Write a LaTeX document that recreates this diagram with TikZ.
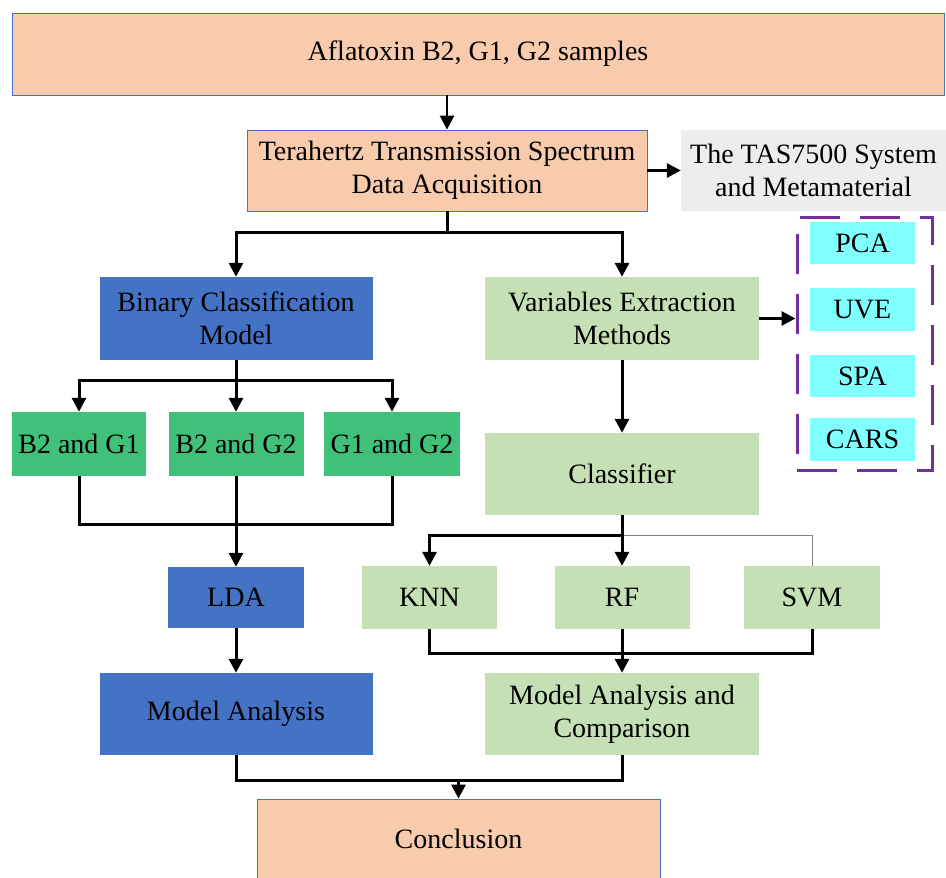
\documentclass[tikz,border=0pt]{standalone}
\usepackage{fontspec}
\setmainfont{Liberation Serif}
\usetikzlibrary{arrows.meta}

\definecolor{peach}{HTML}{F8CBAD}
\definecolor{edgeblue}{HTML}{4472C4}
\definecolor{lightgreen}{HTML}{C5E0B4}
\definecolor{midgreen}{HTML}{41C07A}
\definecolor{lightgray}{HTML}{EDEDED}
\definecolor{aqua}{HTML}{80FFFF}
\definecolor{grpviolet}{HTML}{7030A0}

\begin{document}
\begin{tikzpicture}[x=1pt,y=-1pt,
  boxsize/.style 2 args={minimum width=#1,minimum height=#2,inner sep=0pt,align=center,
    font=\fontsize{28}{33}\selectfont},
  stage/.style={fill=peach,draw=edgeblue,line width=0.8pt},
  blue box/.style={fill=edgeblue},
  green box/.style={fill=lightgreen},
  pair box/.style={fill=midgreen},
  method/.style={fill=aqua},
  grp/.style={draw=grpviolet,line width=3pt,dash pattern=on 40pt off 20pt,
    minimum width=135pt,minimum height=253pt,inner sep=0pt},
  line/.style={line width=3pt},
  arr/.style={line width=3pt,-{Triangle[length=14pt,width=14pt]}}
]
  \fill[white] (0,0) rectangle (946,878);
  \useasboundingbox (0,0) rectangle (946,878);

  \node[stage,boxsize={932pt}{82pt}] (samples) at (478,54) {Aflatoxin B2, G1, G2 samples};
  \node[stage,boxsize={400pt}{81pt}] (thz) at (447,170.5) {Terahertz Transmission Spectrum\\Data Acquisition};
  \node[fill=lightgray,boxsize={265pt}{81pt}] (tas) at (813.5,170.5) {The TAS7500 System\\and Metamaterial};

  \node[blue box,boxsize={273pt}{83pt}] (binary) at (236,318.5) {Binary Classification\\Model};
  \node[green box,boxsize={274pt}{83pt}] (vars) at (622,318.5) {Variables Extraction\\Methods};

  \node[grp] (methods) at (864.5,343.5) {};
  \node[method,boxsize={105pt}{42pt}] (pca) at (862.5,243) {PCA};
  \node[method,boxsize={105pt}{43pt}] (uve) at (862.5,309.5) {UVE};
  \node[method,boxsize={105pt}{42pt}] (spa) at (862.5,376) {SPA};
  \node[method,boxsize={105pt}{43pt}] (cars) at (862.5,439.5) {CARS};

  \node[pair box,boxsize={134pt}{64pt}] (b2g1) at (79,444) {B2 and G1};
  \node[pair box,boxsize={135pt}{64pt}] (b2g2) at (236,444) {B2 and G2};
  \node[pair box,boxsize={136pt}{64pt}] (g1g2) at (392,444) {G1 and G2};

  \node[blue box,boxsize={136pt}{61pt}] (lda) at (236,597.5) {LDA};
  \node[blue box,boxsize={273pt}{82pt}] (analysis) at (236,714) {Model Analysis};

  \node[green box,boxsize={274pt}{82pt}] (classifier) at (622,474) {Classifier};
  \node[green box,boxsize={135pt}{63pt}] (knn) at (429.5,597.5) {KNN};
  \node[green box,boxsize={135pt}{63pt}] (rf) at (622,597.5) {RF};
  \node[green box,boxsize={136pt}{63pt}] (svm) at (812,597.5) {SVM};
  \node[green box,boxsize={274pt}{82pt}] (compare) at (622,714) {Model Analysis and\\Comparison};

  \node[stage,boxsize={403pt}{79pt}] (conclusion) at (458.5,838.5) {Conclusion};

  % top part
  \draw[arr,line width=2.5pt] (samples.south -| thz.north) -- (thz.north);
  \draw[arr] (thz) -- (tas);
  \draw[line] (thz.south) -- ++(0,21) coordinate (split1);
  \draw[arr] (split1) -| (binary.north);
  \draw[arr] (split1) -| (vars.north);

  % binary classification branch
  \draw[line] (binary.south) -- ++(0,20) coordinate (split2);
  \draw[arr] (split2) -| (b2g1.north);
  \draw[arr] (split2) -| (b2g2.north);
  \draw[arr] (split2) -| (g1g2.north);
  \draw[line] (b2g1.south) -- ++(0,48) -| (g1g2.south);
  \draw[arr] (b2g2.south) -- (lda.north);
  \draw[arr] (lda) -- (analysis);

  % variables extraction branch
  \draw[arr] (vars.east) -- (vars.east -| methods.west);
  \draw[arr] (vars) -- (classifier);
  \draw[line] (classifier.south) -- ++(0,20) coordinate (split3);
  \draw[gray,line width=0.8pt] (split3) -| (svm.north);
  \draw[arr] (split3) -| (knn.north);
  \draw[arr] (split3) -| (rf.north);
  \draw[line] (knn.south) -- ++(0,24) -| (svm.south);
  \draw[arr] (rf.south) -- (compare.north);

  % conclusion
  \path (analysis.south) ++(0,25) coordinate (merge);
  \draw[line] (analysis.south) -- (merge) -| (compare.south);
  \draw[arr] (merge -| conclusion.north) -- (conclusion.north);
\end{tikzpicture}
\end{document}
